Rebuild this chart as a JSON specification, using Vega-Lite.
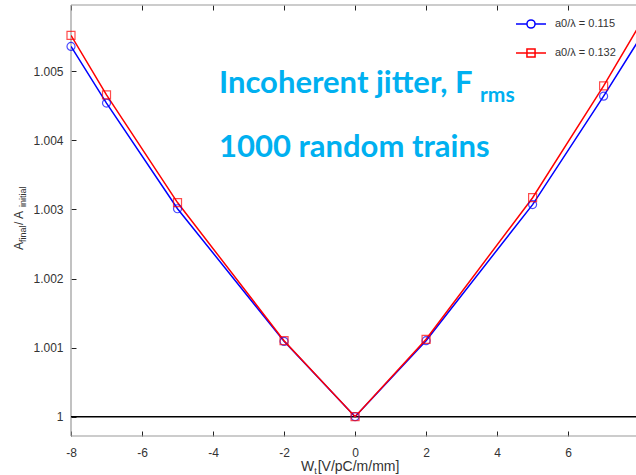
{
  "$schema": "https://vega.github.io/schema/vega-lite/v6.json",
  "width": 566,
  "height": 431,
  "autosize": "none",
  "padding": {"left": 71, "top": 5, "right": 0, "bottom": 39},
  "background": "white",
  "config": {
    "view": {"stroke": null},
    "font": "Liberation Sans",
    "axis": {
      "grid": false,
      "domain": false,
      "tickColor": "#222222",
      "tickWidth": 1,
      "tickSize": -5,
      "labelFont": "Liberation Sans",
      "labelFontSize": 12,
      "labelColor": "#333333",
      "title": null
    }
  },
  "datasets": {
    "curves": [
      {"wt": -8, "ratio": 1.00536, "series": "a0/λ = 0.115"},
      {"wt": -7, "ratio": 1.00454, "series": "a0/λ = 0.115"},
      {"wt": -5, "ratio": 1.00301, "series": "a0/λ = 0.115"},
      {"wt": -2, "ratio": 1.00109, "series": "a0/λ = 0.115"},
      {"wt": 0, "ratio": 1.0, "series": "a0/λ = 0.115"},
      {"wt": 2, "ratio": 1.0011, "series": "a0/λ = 0.115"},
      {"wt": 5, "ratio": 1.00307, "series": "a0/λ = 0.115"},
      {"wt": 7, "ratio": 1.00464, "series": "a0/λ = 0.115"},
      {"wt": 8, "ratio": 1.00546, "series": "a0/λ = 0.115"},
      {"wt": -8, "ratio": 1.00552, "series": "a0/λ = 0.132"},
      {"wt": -7, "ratio": 1.00466, "series": "a0/λ = 0.132"},
      {"wt": -5, "ratio": 1.0031, "series": "a0/λ = 0.132"},
      {"wt": -2, "ratio": 1.0011, "series": "a0/λ = 0.132"},
      {"wt": 0, "ratio": 1.0, "series": "a0/λ = 0.132"},
      {"wt": 2, "ratio": 1.00112, "series": "a0/λ = 0.132"},
      {"wt": 5, "ratio": 1.00317, "series": "a0/λ = 0.132"},
      {"wt": 7, "ratio": 1.00479, "series": "a0/λ = 0.132"},
      {"wt": 8, "ratio": 1.00566, "series": "a0/λ = 0.132"}
    ],
    "single": [{}]
  },
  "layer": [
    {
      "data": {"name": "single"},
      "mark": {"type": "rule", "color": "#999999", "strokeWidth": 1.2},
      "encoding": {"x": {"datum": -8, "type": "quantitative", "axis": null}}
    },
    {
      "data": {"name": "single"},
      "mark": {"type": "rule", "color": "#999999", "strokeWidth": 1.2},
      "encoding": {"y": {"datum": 1.00596, "type": "quantitative"}}
    },
    {
      "data": {"name": "single"},
      "mark": {"type": "rule", "color": "#999999", "strokeWidth": 1.2},
      "encoding": {"y": {"datum": 0.99972, "type": "quantitative"}}
    },
    {
      "data": {"name": "single"},
      "mark": {"type": "rule", "color": "black", "strokeWidth": 1.5},
      "encoding": {"y": {"datum": 1, "type": "quantitative"}}
    },
    {
      "data": {"name": "curves"},
      "mark": {"type": "line", "strokeWidth": 1.5, "clip": true},
      "encoding": {
        "x": {
          "field": "wt",
          "type": "quantitative",
          "scale": {"domain": [-8, 7.94], "nice": false, "zero": false},
          "axis": {
            "orient": "bottom",
            "values": [-8, -6, -4, -2, 0, 2, 4, 6],
            "labelExpr": "'' + datum.value",
            "labelFlush": false,
            "labelPadding": 16
          }
        },
        "y": {
          "field": "ratio",
          "type": "quantitative",
          "scale": {"domain": [0.99972, 1.00596], "nice": false, "zero": false},
          "axis": {
            "values": [1, 1.001, 1.002, 1.003, 1.004, 1.005],
            "labelExpr": "format(datum.value, '.3~f')",
            "labelPadding": 13
          }
        },
        "color": {
          "field": "series",
          "type": "nominal",
          "scale": {"domain": ["a0/λ = 0.115", "a0/λ = 0.132"], "range": ["#0000ff", "#ff0000"]},
          "legend": {
            "title": null,
            "orient": "none",
            "legendX": 444,
            "legendY": 3,
            "padding": 0,
            "rowPadding": 5,
            "labelOffset": 8,
            "labelFont": "Liberation Sans",
            "labelFontSize": 11,
            "labelColor": "#333333",
            "symbolSize": 900,
            "symbolStrokeWidth": 1.5,
            "encode": {
              "symbols": {
                "update": {
                  "size": {"value": 900},
                  "strokeWidth": {"value": 1.5},
                  "fill": {"value": "transparent"},
                  "shape": {"signal": "datum.value == 'a0/λ = 0.115' ? 'M-1,0H-0.27M0.27,0H1M-0.27,0A0.27,0.27 0 1,1 0.27,0A0.27,0.27 0 1,1 -0.27,0Z' : 'M-1,0H1M-0.27,-0.27H0.27V0.27H-0.27Z'"}
                }
              }
            }
          }
        }
      }
    },
    {
      "data": {"name": "curves"},
      "transform": [{"filter": "datum.wt <= 7 && datum.series == 'a0/λ = 0.115'"}],
      "mark": {"type": "point", "shape": "circle", "filled": false, "color": "#0000ff", "size": 64, "strokeWidth": 1.2},
      "encoding": {
        "x": {
          "field": "wt",
          "type": "quantitative",
          "axis": {
            "orient": "top",
            "values": [-8, -6, -4, -2, 0, 2, 4, 6],
            "labels": false
          }
        },
        "y": {"field": "ratio", "type": "quantitative"}
      }
    },
    {
      "data": {"name": "curves"},
      "transform": [{"filter": "datum.wt <= 7 && datum.series == 'a0/λ = 0.132'"}],
      "mark": {"type": "point", "shape": "square", "filled": false, "color": "#ff0000", "size": 64, "strokeWidth": 1.2},
      "encoding": {
        "x": {"field": "wt", "type": "quantitative", "axis": null},
        "y": {"field": "ratio", "type": "quantitative"}
      }
    },
    {
      "data": {"name": "single"},
      "mark": {"type": "text", "font": "Lato", "fontWeight": "bold", "fontSize": 31, "color": "#00b0f0", "align": "left", "baseline": "alphabetic"},
      "encoding": {
        "x": {"datum": -3.832, "type": "quantitative", "axis": null},
        "y": {"datum": 1.004686, "type": "quantitative"},
        "text": {"value": "Incoherent jitter, F"}
      }
    },
    {
      "data": {"name": "single"},
      "mark": {"type": "text", "font": "Lato", "fontWeight": "bold", "fontSize": 21, "color": "#00b0f0", "align": "left", "baseline": "alphabetic"},
      "encoding": {
        "x": {"datum": 3.518, "type": "quantitative", "axis": null},
        "y": {"datum": 1.00456, "type": "quantitative"},
        "text": {"value": "rms"}
      }
    },
    {
      "data": {"name": "single"},
      "mark": {"type": "text", "font": "Lato", "fontWeight": "bold", "fontSize": 31, "color": "#00b0f0", "align": "left", "baseline": "alphabetic"},
      "encoding": {
        "x": {"datum": -3.832, "type": "quantitative", "axis": null},
        "y": {"datum": 1.003764, "type": "quantitative"},
        "text": {"value": "1000 random trains"}
      }
    },
    {
      "data": {"name": "single"},
      "mark": {"type": "text", "fontSize": 14, "color": "#333333", "align": "left", "baseline": "alphabetic"},
      "encoding": {
        "x": {"datum": -1.523, "type": "quantitative", "axis": null},
        "y": {"datum": 0.999213, "type": "quantitative"},
        "text": {"value": "W"}
      }
    },
    {
      "data": {"name": "single"},
      "mark": {"type": "text", "fontSize": 9, "color": "#333333", "align": "left", "baseline": "alphabetic", "dx": 13.2, "dy": 3},
      "encoding": {
        "x": {"datum": -1.523, "type": "quantitative", "axis": null},
        "y": {"datum": 0.999213, "type": "quantitative"},
        "text": {"value": "t"}
      }
    },
    {
      "data": {"name": "single"},
      "mark": {"type": "text", "fontSize": 14, "color": "#333333", "align": "left", "baseline": "alphabetic", "dx": 16.7},
      "encoding": {
        "x": {"datum": -1.523, "type": "quantitative", "axis": null},
        "y": {"datum": 0.999213, "type": "quantitative"},
        "text": {"value": " [V/pC/m/mm]"}
      }
    },
    {
      "data": {"name": "single"},
      "mark": {"type": "text", "fontSize": 12, "color": "#333333", "align": "left", "baseline": "alphabetic", "angle": 270},
      "encoding": {
        "x": {"datum": -9.352, "type": "quantitative", "axis": null},
        "y": {"datum": 1.0024129, "type": "quantitative"},
        "text": {"value": "A"}
      }
    },
    {
      "data": {"name": "single"},
      "mark": {"type": "text", "fontSize": 9, "color": "#333333", "align": "left", "baseline": "alphabetic", "angle": 270, "dx": 8, "dy": 3},
      "encoding": {
        "x": {"datum": -9.352, "type": "quantitative", "axis": null},
        "y": {"datum": 1.0024129, "type": "quantitative"},
        "text": {"value": "final"}
      }
    },
    {
      "data": {"name": "single"},
      "mark": {"type": "text", "fontSize": 12, "color": "#333333", "align": "left", "baseline": "alphabetic", "angle": 270, "dx": 25},
      "encoding": {
        "x": {"datum": -9.352, "type": "quantitative", "axis": null},
        "y": {"datum": 1.0024129, "type": "quantitative"},
        "text": {"value": " / A"}
      }
    },
    {
      "data": {"name": "single"},
      "mark": {"type": "text", "fontSize": 9, "color": "#333333", "align": "left", "baseline": "alphabetic", "angle": 270, "dx": 43, "dy": 3},
      "encoding": {
        "x": {"datum": -9.352, "type": "quantitative", "axis": null},
        "y": {"datum": 1.0024129, "type": "quantitative"},
        "text": {"value": "initial"}
      }
    }
  ],
  "resolve": {"axis": {"x": "independent"}}
}
